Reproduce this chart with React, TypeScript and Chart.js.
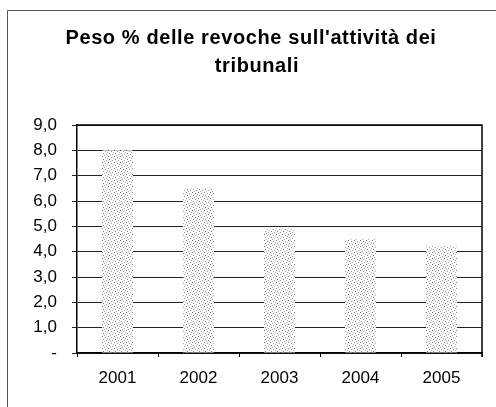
import React, { useEffect, useRef } from "react";
import { Chart, registerables } from "chart.js";

Chart.register(...registerables);

const years: string[] = ["2001", "2002", "2003", "2004", "2005"];
const values: number[] = [8.0, 6.5, 4.9, 4.5, 4.2];
const titleLines: string[] = ["Peso % delle revoche sull'attività dei", "tribunali"];
const yMin = 0;
const yMax = 9;
const yStep = 1;

const FONT = "'Liberation Sans', Arial, Helvetica, sans-serif";

function makePattern(): CanvasPattern | string {
  const c = document.createElement("canvas");
  c.width = 6;
  c.height = 6;
  const g = c.getContext("2d");
  if (!g) return "#dcdcdc";
  g.fillStyle = "#ffffff";
  g.fillRect(0, 0, 6, 6);
  const dots: [number, number, string][] = [
    [0, 0, "#707070"],
    [3, 1, "#9a9a9a"],
    [1, 3, "#858585"],
    [4, 4, "#a0a0a0"],
    [5, 2, "#b8b8b8"],
    [2, 5, "#b0b0b0"],
  ];
  for (const [x, y, col] of dots) {
    g.fillStyle = col;
    g.fillRect(x, y, 1, 1);
  }
  const p = g.createPattern(c, "repeat");
  return p || "#dcdcdc";
}

const decorPlugin = {
  id: "decor",
  beforeDraw(chart: any) {
    const ctx = chart.ctx;
    ctx.save();
    ctx.fillStyle = "#ffffff";
    ctx.fillRect(0, 0, chart.width, chart.height);
    ctx.strokeStyle = "#555";
    ctx.lineWidth = 1;
    ctx.beginPath();
    ctx.moveTo(7.5, chart.height);
    ctx.lineTo(7.5, 10.5);
    ctx.lineTo(chart.width, 10.5);
    ctx.stroke();
    ctx.restore();
  },
  afterDraw(chart: any) {
    const ctx = chart.ctx;
    const a = chart.chartArea;
    ctx.save();
    ctx.strokeStyle = "#000";
    ctx.lineWidth = 1.5;
    ctx.beginPath();
    ctx.moveTo(a.left, a.top);
    ctx.lineTo(a.right, a.top);
    ctx.lineTo(a.right, a.bottom + 4);
    ctx.stroke();
    ctx.fillStyle = "#000";
    ctx.font = `bold 20px ${FONT}`;
    ctx.textAlign = "center";
    ctx.textBaseline = "alphabetic";
    try {
      (ctx as any).letterSpacing = "0.6px";
    } catch (e) {}
    ctx.fillText(titleLines[0], 251, 44);
    ctx.fillText(titleLines[1], 257, 72);
    ctx.restore();
  },
};

export default function App() {
  const ref = useRef<HTMLCanvasElement | null>(null);
  useEffect(() => {
    if (!ref.current) return;
    const pattern = makePattern();
    const chart = new Chart(ref.current, {
      type: "bar",
      data: {
        labels: years,
        datasets: [
          {
            data: values,
            backgroundColor: pattern as any,
            borderWidth: 0,
            categoryPercentage: 1,
            barPercentage: 0.38,
          },
        ],
      },
      options: {
        responsive: false,
        animation: false,
        devicePixelRatio: 1,
        layout: { padding: { top: 125, left: 0, right: 14, bottom: 0 } },
        plugins: {
          legend: { display: false },
          title: { display: false },
          tooltip: { enabled: false },
        },
        scales: {
          x: {
            afterFit: (s: any) => {
              s.height = 54;
            },
            grid: {
              drawOnChartArea: false,
              drawTicks: true,
              tickLength: 4,
              color: "#000",
              offset: true,
            },
            border: { display: true, color: "#000", width: 1.5 },
            ticks: {
              color: "#000",
              padding: 11,
              font: { family: FONT, size: 17 },
            },
          },
          y: {
            min: yMin,
            max: yMax,
            afterFit: (s: any) => {
              s.width = 77;
            },
            grid: {
              color: "#222",
              lineWidth: 1,
              drawTicks: true,
              tickLength: 5,
            },
            border: { display: true, color: "#000", width: 1.5 },
            ticks: {
              stepSize: yStep,
              color: "#000",
              padding: 15,
              font: { family: FONT, size: 17 },
              callback: (v: any) =>
                Number(v) === 0 ? "-" : Number(v).toFixed(1).replace(".", ","),
            },
          },
        },
      },
      plugins: [decorPlugin],
    });
    return () => chart.destroy();
  }, []);
  return (
    <div style={{ position: "fixed", left: 0, top: 0, width: 496, height: 407, background: "#fff" }}>
      <canvas ref={ref} width={496} height={407} style={{ display: "block" }} />
    </div>
  );
}
